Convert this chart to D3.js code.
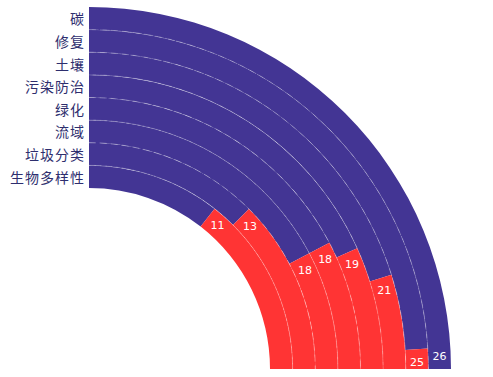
<!DOCTYPE html>
<html>
<head>
<meta charset="utf-8">
<script src="https://cdn.jsdelivr.net/npm/d3@7"></script>
<style>
  html, body { margin: 0; padding: 0; background: #ffffff; }
  svg { display: block; }
</style>
</head>
<body>
<svg id="chart" width="493" height="377"></svg>
<script>
// Categories from innermost ring to outermost ring
const categories = ["生物多样性", "垃圾分类", "流域", "绿化", "污染防治", "土壤", "修复", "碳"];
const values = [11, 13, 18, 18, 19, 21, 25, 26];
const maxValue = 26;

const width = 493, height = 377;
const cx = 89, cy = 369;
const rInner = 181, rOuter = 362;
const blue = "#433594", red = "#ff3434";

const svg = d3.select("#chart");
const g = svg.append("g").attr("transform", `translate(${cx},${cy})`);

const r = d3.scaleBand().domain(categories).range([rInner, rOuter]).padding(0);
const a = d3.scaleLinear().domain([0, maxValue]).range([0, Math.PI / 2]);

const arc = d3.arc();

const data = categories.map((c, i) => ({ c, v: values[i] }));

// blue bars (value)
g.selectAll("path.blue").data(data).join("path")
  .attr("class", "blue")
  .attr("fill", blue)
  .attr("d", d => arc({ innerRadius: r(d.c), outerRadius: r(d.c) + r.bandwidth(), startAngle: 0, endAngle: a(d.v) }));

// red remainder
g.selectAll("path.red").data(data.filter(d => d.v < maxValue)).join("path")
  .attr("class", "red")
  .attr("fill", red)
  .attr("d", d => arc({ innerRadius: r(d.c), outerRadius: r(d.c) + r.bandwidth(), startAngle: a(d.v), endAngle: Math.PI / 2 }));

// dashed split lines between rings
const bounds = categories.slice(1).map(c => r(c));
g.selectAll("path.split").data(bounds).join("path")
  .attr("class", "split")
  .attr("fill", "none")
  .attr("stroke", "rgba(255,255,255,0.2)")
  .attr("stroke-width", 1)
  .attr("stroke-dasharray", "7,4")
  .attr("d", rad => arc({ innerRadius: rad, outerRadius: rad, startAngle: 0, endAngle: Math.PI / 2 }));

// value labels
g.selectAll("text.val").data(data).join("text")
  .attr("class", "val")
  .attr("fill", "#ffffff")
  .attr("font-family", "DejaVu Sans, sans-serif")
  .attr("font-size", 11)
  .attr("text-anchor", "middle")
  .attr("dominant-baseline", "central")
  .attr("x", d => {
    const rm = r(d.c) + r.bandwidth() / 2;
    let t = a(d.v);
    const off = 13 / rm;
    t = (t + off > Math.PI / 2) ? t - off : t + off;
    return rm * Math.sin(t);
  })
  .attr("y", d => {
    const rm = r(d.c) + r.bandwidth() / 2;
    let t = a(d.v);
    const off = 13 / rm;
    t = (t + off > Math.PI / 2) ? t - off : t + off;
    return -rm * Math.cos(t);
  })
  .text(d => d.v);

// category labels on the left
svg.append("g").selectAll("text").data(categories).join("text")
  .attr("x", 85)
  .attr("y", d => cy - (r(d) + r.bandwidth() / 2))
  .attr("text-anchor", "end")
  .attr("dominant-baseline", "central")
  .attr("fill", "#2e2e6e")
  .attr("font-family", "Noto Sans CJK SC, sans-serif")
  .attr("font-size", 14)
  .attr("letter-spacing", 1)
  .text(d => d);
</script>
</body>
</html>
